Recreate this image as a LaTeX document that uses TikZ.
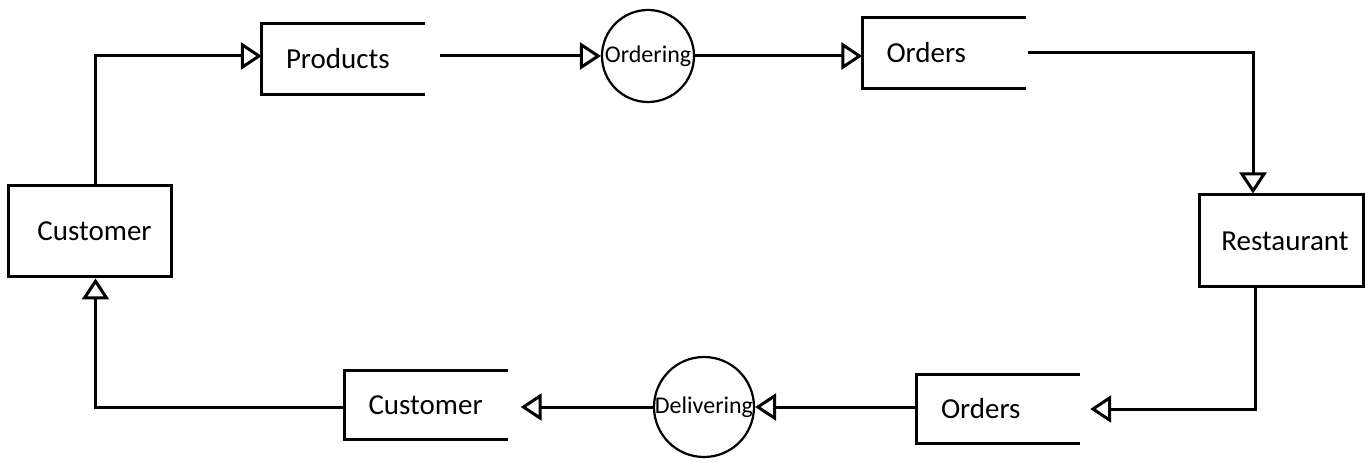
\documentclass[tikz,border=0pt]{standalone}
\usepackage{fontspec}
\setmainfont{Carlito}
\usetikzlibrary{arrows.meta}
\begin{document}
\begin{tikzpicture}[x=1pt,y=-1pt,
  every node/.style={font=\fontsize{29}{34}\selectfont},
  entity/.style={draw,line width=3pt,minimum width=163pt,inner sep=0pt},
  store/.style={inner xsep=24pt,inner ysep=0pt,text width=115pt,align=left},
  process/.style={circle,draw,line width=2.2pt,inner sep=0pt,font=\fontsize{24}{28}\selectfont},
  flow/.style={line width=3pt,-{Triangle[open,length=21pt,width=27pt,fill=white]}}]
\useasboundingbox (0,0) rectangle (1365,462);
\node [entity, minimum height=91pt, text depth=0pt, align=center] (cust) at (89.5,231.5) {\hspace*{10pt}Customer};
\node [entity, minimum width=164pt, minimum height=92pt] (rest) at (1281,241) {\hspace*{8pt}Restaurant};
\node [store, minimum height=70pt] (prod) at (343.5,59) {Products};
\node [store, minimum height=70pt] (ordtop) at (944,53) {Orders};
\node [store, minimum height=68pt] (ordbot) at (998.5,409) {Orders};
\node [store, minimum height=68pt] (custbot) at (426,405) {Customer};
\node [process, minimum size=92pt] (ord) at (648,56) {Ordering};
\node [process, minimum size=94pt] (del) at (704,407) {Delivering};
% data stores
\foreach \s in {prod,ordtop,ordbot,custbot}
  \draw [line width=3pt] (\s.north east) -- (\s.north west) -- (\s.south west) -- (\s.south east);
% flows
\draw [flow] ([xshift=6pt]cust.north) |- (prod.west |- ord.west);
\draw [flow] ([xshift=15pt]ord.west -| prod.east) -- (ord.west);
\draw [flow] (ord.east) -- (ord.east -| ordtop.west);
\draw [flow] ([xshift=2pt]ordtop.east) -| ([xshift=-28pt]rest.north);
\draw [flow] ([xshift=-26pt]rest.south) |- ([xshift=10pt]ordbot.east);
\draw [flow] (ordbot.west |- del.east) -- (del.east);
\draw [flow] (del.west) -- ([xshift=13pt]del.west -| custbot.east);
\draw [flow] (custbot.west |- del.west) -| ([xshift=6pt]cust.south);
\end{tikzpicture}
\end{document}
